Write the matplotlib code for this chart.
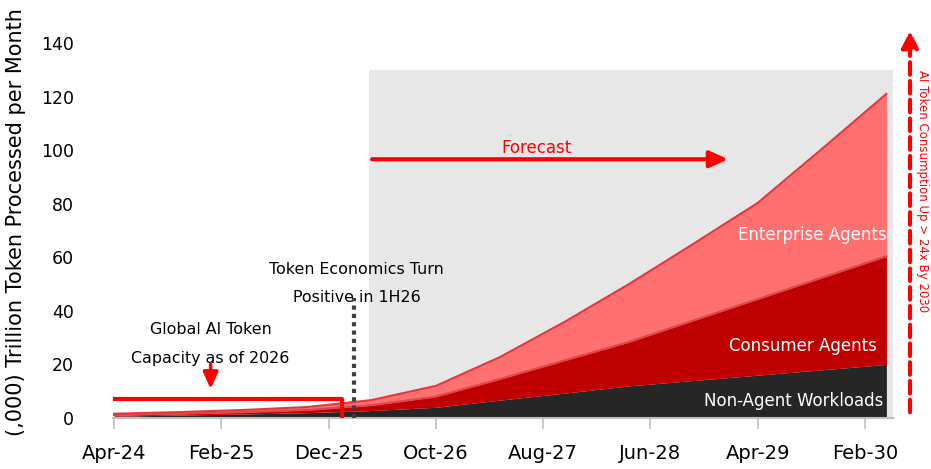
import matplotlib.pyplot as plt
from matplotlib.patches import FancyArrowPatch
import numpy as np

# months since Apr-24, semi-annual points
months = [0, 6, 12, 18, 24, 30, 36, 42, 48, 54, 60, 66, 72]
non_agent = [0.7, 1.1, 1.5, 2.0, 2.8, 4.0, 6.7, 9.3, 12.0, 14.0, 16.0, 18.0, 20.0]
consumer = [0.4, 0.5, 0.7, 1.0, 2.0, 4.0, 7.9, 12.2, 16.4, 22.4, 28.4, 34.4, 40.4]
enterprise = [0.5, 0.6, 0.8, 1.1, 1.9, 4.0, 8.2, 14.4, 21.6, 28.6, 35.9, 48.1, 60.6]

tick_pos = [0, 10, 20, 30, 40, 50, 60, 70]
tick_labels = ['Apr-24', 'Feb-25', 'Dec-25', 'Oct-26', 'Aug-27', 'Jun-28', 'Apr-29', 'Feb-30']

# annotation values
forecast_start = 23.8
capacity_level = 7.1
capacity_end = 21.25
turn_month = 22.4

plt.rcParams['font.family'] = ['DejaVu Sans']

fig = plt.figure(figsize=(9.31, 4.69), dpi=100)
ax = fig.add_axes([0.1214, 0.1087, 0.8376, 0.7996])

x = np.array(months)
b = np.array(non_agent)
m = b + np.array(consumer)
t = m + np.array(enterprise)

# forecast shading
ax.axvspan(forecast_start, 72.6, ymin=0, ymax=130 / 140, color='#E7E7E7', lw=0, zorder=0)

ax.fill_between(x, 0, b, color='#262626', lw=0, zorder=2)
ax.fill_between(x, b, m, color='#C00000', lw=0, zorder=2)
ax.fill_between(x, m, t, color='#FF7070', lw=0, zorder=2)
ax.plot(x, m, color='#E04848', lw=1.5, zorder=3)
ax.plot(x, t, color='#E8343C', lw=1.5, zorder=3)

ax.set_xlim(-0.1, 72.6)
ax.set_ylim(0, 140)
ax.set_xticks(tick_pos)
ax.set_xticklabels(tick_labels)
ax.set_yticks(range(0, 141, 20))
ax.tick_params(axis='x', labelsize=14, length=8, color='#BFBFBF', width=1.2, pad=11)
ax.tick_params(axis='y', labelsize=12.5, length=0, pad=28)
for s in ['top', 'right', 'left']:
    ax.spines[s].set_visible(False)
ax.spines['bottom'].set_color('#BFBFBF')
ax.spines['bottom'].set_linewidth(1.5)
ax.set_ylabel('(,000) Trillion Token Processed per Month', fontsize=15)
ax.yaxis.set_label_coords(-0.112, 0.523)

# capacity line
ax.plot([-0.1, capacity_end, capacity_end], [capacity_level, capacity_level, 0],
        color='#FF0000', lw=3, zorder=5, clip_on=False, solid_capstyle='butt')
ax.annotate('', xy=(9.0, 9.8), xytext=(9.0, 21.2),
            arrowprops=dict(arrowstyle='-|>,head_width=0.45,head_length=1.0', color='#FF0000', lw=2.5))
ax.text(9.0, 33, 'Global AI Token', ha='center', va='center', fontsize=11.4)
ax.text(9.0, 22.2, 'Capacity as of 2026', ha='center', va='center', fontsize=11.4)

# token economics
ax.plot([turn_month, turn_month], [0, 44.8], color='#404040', lw=3, ls=(0, (1, 1)), zorder=6)
ax.text(22.6, 55.5, 'Token Economics Turn', ha='center', va='center', fontsize=11.4)
ax.text(22.6, 45, 'Positive in 1H26', ha='center', va='center', fontsize=11.4)

# forecast arrow
ax.annotate('', xy=(57.5, 96.6), xytext=(23.8, 96.6),
            arrowprops=dict(arrowstyle='-|>,head_width=0.5,head_length=1.1', color='#FF0000', lw=3))
ax.text(39.4, 100.7, 'Forecast', ha='center', va='center', fontsize=12, color='#FF0000')

# series labels
ax.text(72.0, 68.3, 'Enterprise Agents', ha='right', va='center', fontsize=12, color='white', zorder=7)
ax.text(71.1, 26.9, 'Consumer Agents', ha='right', va='center', fontsize=12, color='white', zorder=7)
ax.text(71.7, 6.3, 'Non-Agent Workloads', ha='right', va='center', fontsize=12, color='white', zorder=7)

# right dashed arrow
fig.patches.append(FancyArrowPatch(
    (910 / 931, 1 - 415 / 469), (910 / 931, 1 - 28 / 469), transform=fig.transFigure,
    arrowstyle='-|>,head_width=5,head_length=10', color='#FF0000', lw=3, linestyle=(0, (3, 1.5))))
fig.text(922 / 931, 1 - 191 / 469, 'AI Token Consumption Up > 24x By 2030', rotation=-90,
         ha='center', va='center', fontsize=8.5, color='#FF0000')

fig.savefig('out.png', dpi=100)
